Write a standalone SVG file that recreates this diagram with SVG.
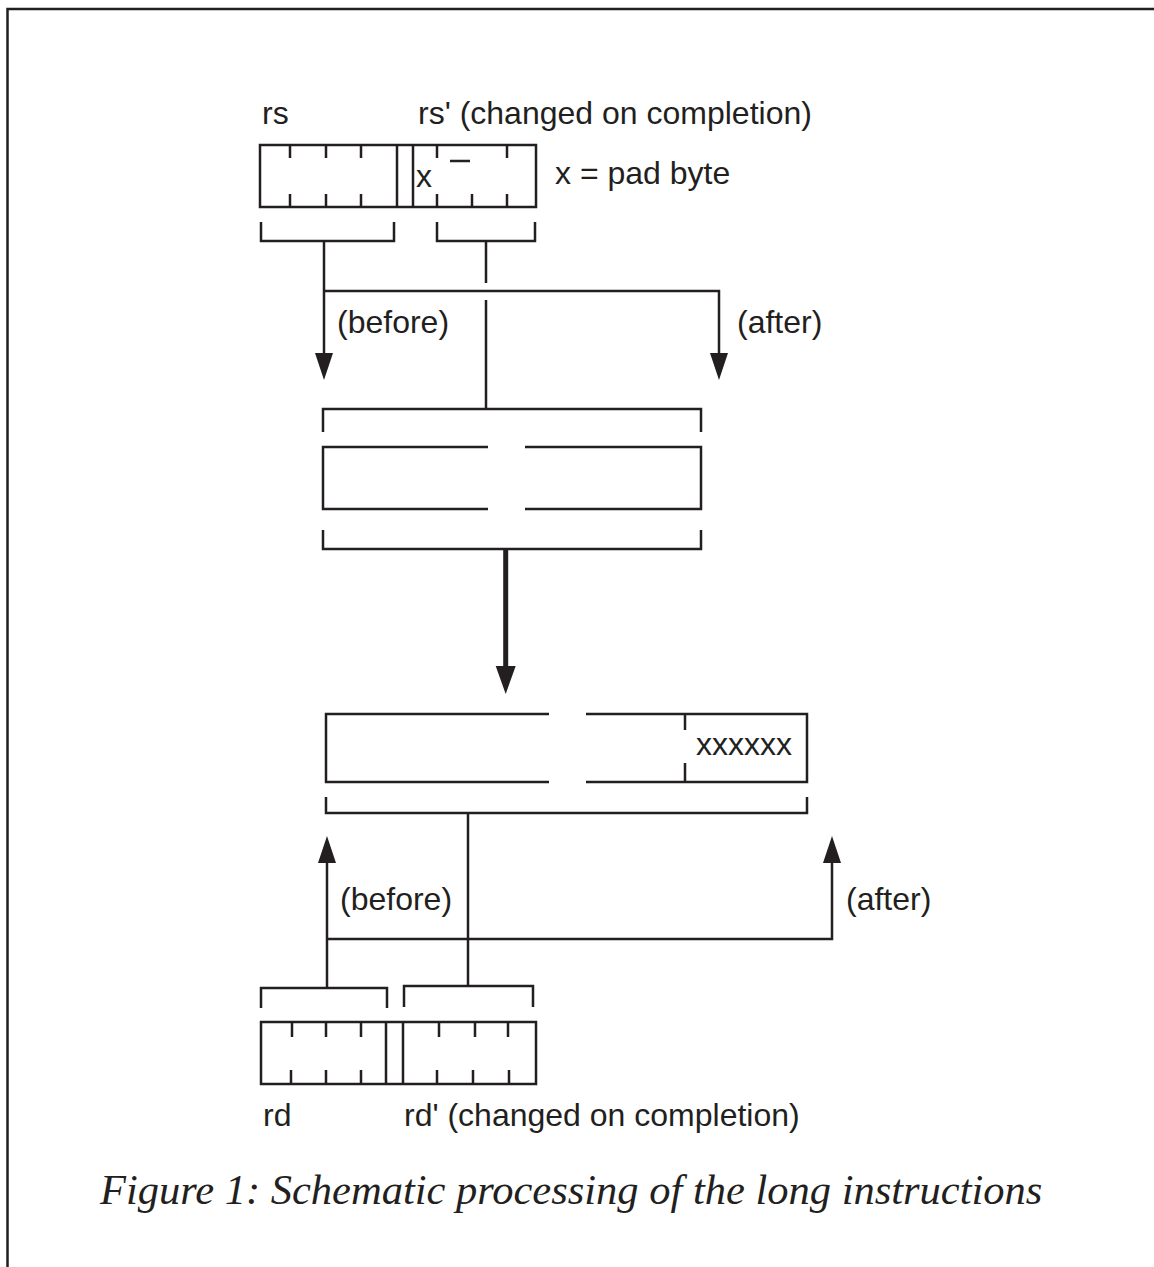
<svg xmlns="http://www.w3.org/2000/svg" width="1154" height="1267" viewBox="0 0 1154 1267">
<style>
.ln{fill:none;stroke:#231f20;stroke-width:2.5}
.hv{fill:none;stroke:#231f20;stroke-width:5}
.t{font-family:"Liberation Sans",Arial,sans-serif;font-size:32px;fill:#231f20}
.cap{font-family:"Liberation Serif","Times New Roman",serif;font-style:italic;font-size:42.5px;fill:#231f20}
</style>
<defs>
<marker id="ah" markerUnits="userSpaceOnUse" markerWidth="30" markerHeight="20" refX="0" refY="9" orient="auto" viewBox="0 0 30 20">
<path d="M0,0 L27,9 L0,18 z" fill="#231f20"/>
</marker>
<marker id="ahb" markerUnits="userSpaceOnUse" markerWidth="30" markerHeight="22" refX="0" refY="10" orient="auto" viewBox="0 0 30 22">
<path d="M0,0 L28,10 L0,20 z" fill="#231f20"/>
</marker>
</defs>
<rect width="1154" height="1267" fill="#ffffff"/>
<path class="ln" d="M7.5,1267 V9 H1154"/>

<g id="rs-register">
<rect class="ln" x="260" y="145" width="276" height="62"/>
<path class="ln" d="M397,145 V207 M413,145 V207"/>
<path class="ln" d="M290,145 V158 M326,145 V158 M361,145 V158 M437,145 V158 M507,145 V158"/>
<path class="ln" d="M290,194 V207 M326,194 V207 M361,194 V207 M437,194 V207 M472,194 V207 M507,194 V207"/>
<path class="ln" d="M450,161 H470"/>
<text class="t" x="416" y="187">x</text>
<path class="ln" d="M261,222 V241 H394 V222"/>
<path class="ln" d="M437,222 V241 H535 V222"/>
<text class="t" x="262" y="124">rs</text>
<text class="t" x="418" y="124">rs' (changed on completion)</text>
<text class="t" x="555" y="184">x = pad byte</text>
</g>

<g id="source-operand">
<path class="ln" d="M323,432 V409 H701 V432"/>
<path class="ln" d="M488,447 H323 V509 H488 M525,447 H701 V509 H525"/>
<path class="ln" d="M323,530 V549 H701 V530"/>
</g>

<g id="target-operand">
<path class="ln" d="M549,714 H326 V782 H549 M586,714 H807 V782 H586"/>
<path class="ln" d="M685,714 V730 M685,763 V782"/>
<text class="t" x="696" y="755">xxxxxx</text>
<path class="ln" d="M326,797 V813 H807 V797"/>
</g>

<g id="rd-register">
<rect class="ln" x="261" y="1022" width="275" height="62"/>
<path class="ln" d="M386,1022 V1084 M403,1022 V1084"/>
<path class="ln" d="M292,1022 V1037 M326,1022 V1037 M361,1022 V1037 M439,1022 V1037 M475,1022 V1037 M508,1022 V1037"/>
<path class="ln" d="M291,1070 V1084 M326,1070 V1084 M361,1070 V1084 M437,1070 V1084 M473,1070 V1084 M509,1070 V1084"/>
<path class="ln" d="M261,1008 V988 H387 V1008"/>
<path class="ln" d="M404,1007 V986 H533 V1007"/>
<text class="t" x="263" y="1126">rd</text>
<text class="t" x="404" y="1126">rd' (changed on completion)</text>
</g>

<g id="connectors">
<path class="ln" d="M324,241 V353" marker-end="url(#ah)"/>
<path class="ln" d="M324,291 H719 V353" marker-end="url(#ah)"/>
<path class="ln" d="M486,241 V283 M486,300 V409"/>
<path class="hv" d="M505.7,549 V666" marker-end="url(#ahb)"/>
<path class="ln" d="M468,813 V986"/>
<path class="ln" d="M327,988 V863" marker-end="url(#ah)"/>
<path class="ln" d="M327,939 H832 V863" marker-end="url(#ah)"/>
<text class="t" x="337" y="333">(before)</text>
<text class="t" x="737" y="333">(after)</text>
<text class="t" x="340" y="910">(before)</text>
<text class="t" x="846" y="910">(after)</text>
</g>

<text class="cap" x="100" y="1204">Figure 1: Schematic processing of the long instructions</text>
</svg>
